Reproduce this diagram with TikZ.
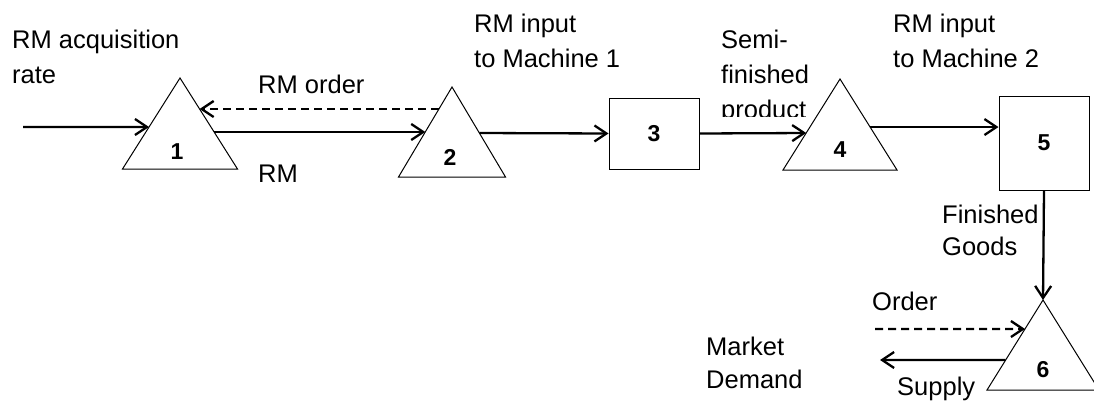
\documentclass[tikz,border=0pt]{standalone}
\usepackage{fontspec}
\setmainfont{Liberation Sans}
\usetikzlibrary{arrows.meta,calc}

% storage tank: triangle with named apex and base corners
\newcommand\tankshape[5]{% name, apex x, apex y, base y, half width
  \coordinate (#1-a) at (#2,#3);
  \coordinate (#1-l) at (#2-#5,#4);
  \coordinate (#1-r) at (#2+#5,#4);
  \draw[line width=1pt] (#1-a) -- (#1-l) -- (#1-r) -- cycle;}

\begin{document}
\begin{tikzpicture}[x=1pt,y=-1pt,
  % multi-line labels are placed by the baseline of their last line
  lbl/.style={anchor=base west, inner sep=0pt, align=left,
    font=\fontsize{25.5}{35}\selectfont},
  num/.style={inner sep=0pt, font=\fontsize{23}{27}\selectfont\bfseries},
  box/.style={draw, line width=1pt, inner sep=0pt, minimum width=90pt,
    minimum height=71pt, font=\fontsize{23}{27}\selectfont\bfseries},
  flow/.style={line width=2.3pt, -{Straight Barb[length=12pt,width=16pt]}},
  info/.style={flow, dash pattern=on 8pt off 5pt}
]
\useasboundingbox (0,0) rectangle (1094,404);

% stocks and machines
\tankshape{t1}{180}{78}{169}{57.5}
\node[num] (n1) at (177,152) {1};
\tankshape{t2}{452}{87}{177}{53.5}
\node[num] (n2) at (450,157) {2};
\node[box] (b3) at (654,133.5) {3};
\tankshape{t4}{840}{79}{170}{57}
\node[num] (n4) at (840,150) {4};
\node[box, minimum height=94pt] (b5) at (1044,143) {5};
\tankshape{t6}{1043}{300}{390}{56}
\node[num] (n6) at (1043,370) {6};

% material and information flows
\coordinate (src) at (23,127);
\draw[flow] (src) -- (intersection of t1-a--t1-l and 0,127--1,127);
\draw[flow] (intersection of t1-a--t1-r and 0,132--1,132)
  -- (intersection of t2-a--t2-l and 0,132--1,132);
\draw[info] (intersection of t2-a--t2-l and 0,109--1,109)
  -- (intersection of t1-a--t1-r and 0,109--1,109);
\draw[flow] (intersection of t2-a--t2-r and 0,133--1,133) -- (b3.west);
\draw[flow] (b3.east) -- (intersection of t4-a--t4-l and 0,133--1,133);
\coordinate (t4out) at (intersection of t4-a--t4-r and 0,127--1,127);
\draw[flow] (t4out) -- (t4out -| b5.west);
\draw[flow] (b5.south) -- (t6-a);
\coordinate (ordsrc) at (875,329);
\draw[info] (ordsrc) -- (intersection of t6-a--t6-l and 0,329--1,329);
\coordinate (mkt) at (880,360);
\draw[flow] (intersection of t6-a--t6-l and 0,360--1,360) -- (mkt);

% labels
\node[lbl] (l-acq) at (12,83) {RM acquisition\\rate};
\node[lbl] (l-ord) at (258,93) {RM order};
\node[lbl] (l-rm) at (258,182) {RM};
\node[lbl] (l-in1) at (474,67) {RM input\\to Machine 1};
\begin{scope}
  \clip (700,0) rectangle (835,116.5);
  \node[lbl] (l-semi) at (721,118) {Semi-\\finished\\product};
\end{scope}
\node[lbl] (l-in2) at (893,67) {RM input\\to Machine 2};
\node[lbl, font=\fontsize{25.5}{32}\selectfont] (l-fg) at (942,255) {Finished\\Goods};
\node[lbl] (l-order) at (872,310) {Order};
\node[lbl] (l-sup) at (897,395) {Supply};
\node[lbl, font=\fontsize{25.5}{33}\selectfont] (l-mkt) at (706,388) {Market\\Demand};
\end{tikzpicture}
\end{document}
